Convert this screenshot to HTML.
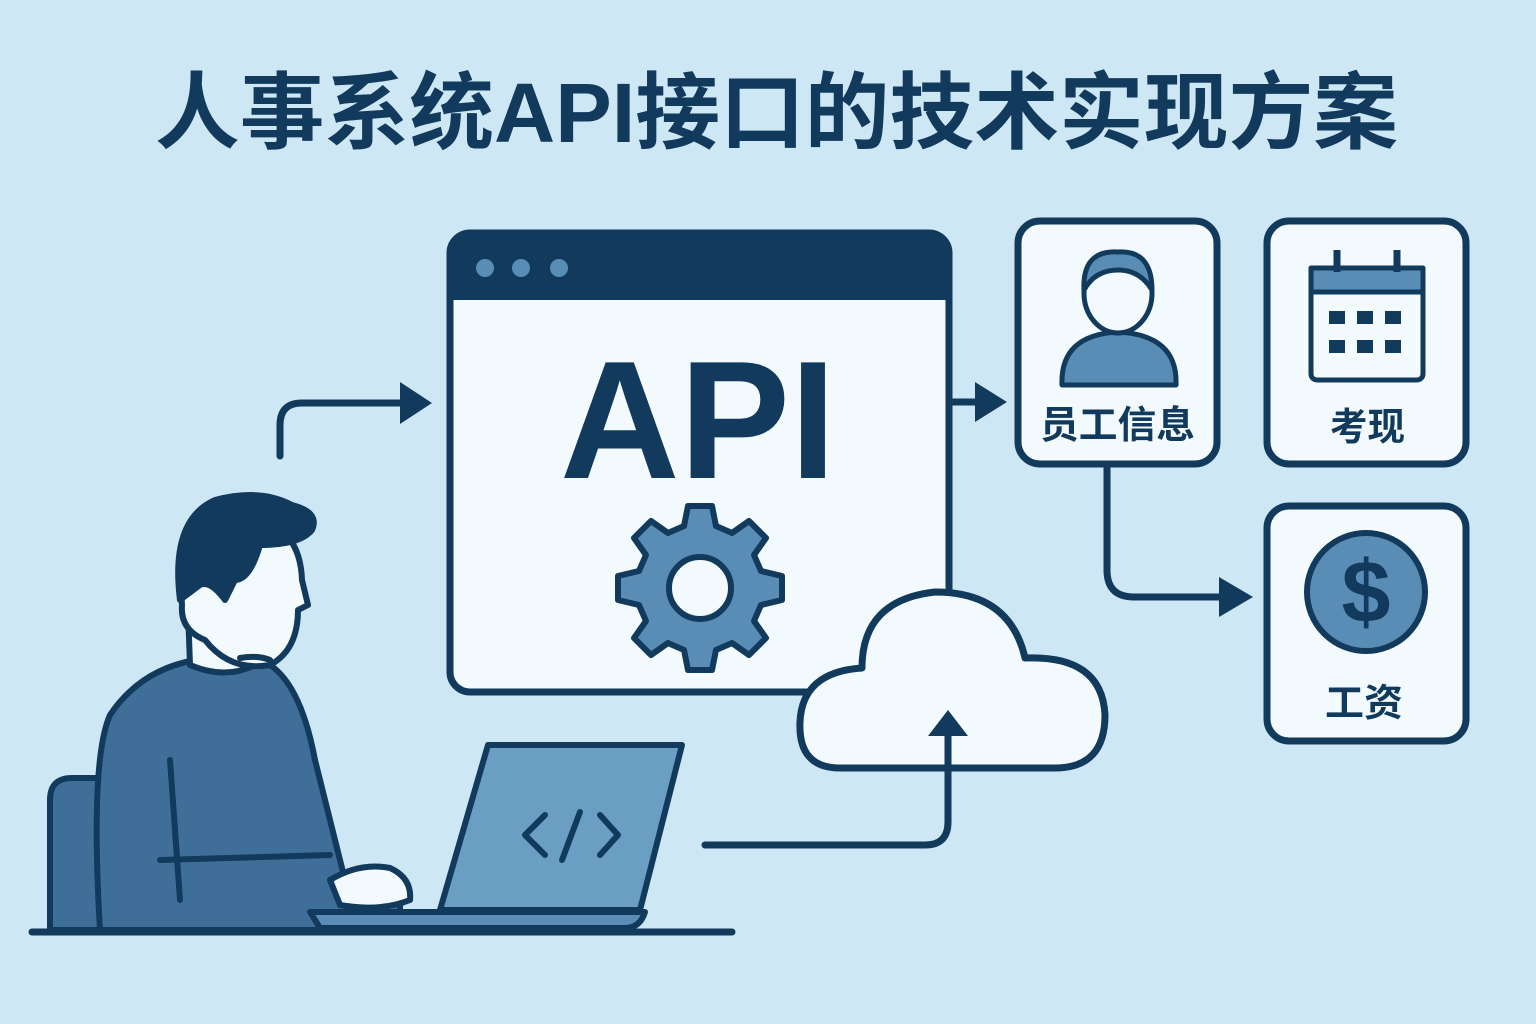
<!DOCTYPE html>
<html><head><meta charset="utf-8"><style>
html,body{margin:0;padding:0;background:#cde7f5;}
svg{display:block}
text{font-family:"Liberation Sans","Noto Sans CJK SC",sans-serif;font-weight:bold;fill:#123a5c}
</style></head><body>
<svg width="1536" height="1024" viewBox="0 0 1536 1024" xmlns="http://www.w3.org/2000/svg">
<rect width="1536" height="1024" fill="#cde7f5"/>
<text x="155" y="142" font-size="84" textLength="1243" lengthAdjust="spacingAndGlyphs">人事系统API接口的技术实现方案</text>

<g fill="none" stroke="#123a5c" stroke-width="7" stroke-linecap="round" stroke-linejoin="round">
<!-- left arrow -->
<path d="M280 456 V425 Q280 403 302 403 H405"/>
<!-- API to box arrow -->
<path d="M952 402 H978"/>
<!-- box1 to salary -->
<path d="M1107 465 V570 Q1107 597 1134 597 H1225"/>
<!-- laptop to cloud -->
<path d="M705 845 H925 Q948 845 948 822 V735"/>
</g>
<g fill="#123a5c">
<polygon points="400,382 432,403 400,424"/>
<polygon points="975,382 1007,402 975,422"/>
<polygon points="1219,577 1253,597 1219,617"/>
</g>

<!-- browser window -->
<rect x="450" y="233" width="499" height="459" rx="20" fill="#f3fafd" stroke="#123a5c" stroke-width="7"/>
<path d="M450 300 V253 Q450 233 470 233 H929 Q949 233 949 253 V300 Z" fill="#123a5c"/>
<circle cx="485" cy="268" r="9" fill="#5a8db5"/>
<circle cx="521" cy="268" r="9" fill="#5a8db5"/>
<circle cx="559" cy="268" r="9" fill="#5a8db5"/>
<text x="560" y="478" font-size="168" textLength="276" lengthAdjust="spacingAndGlyphs">API</text>
<!-- gear -->
<g transform="translate(700,588)" fill="#5a8db5" stroke="#123a5c" stroke-width="6" stroke-linejoin="round">
<path d="M-12 -82 H12 L16 -62 L32 -55 L49 -67 L66 -50 L54 -33 L61 -17 L82 -12 V12 L61 17 L54 33 L66 50 L49 67 L32 55 L16 62 L12 82 H-12 L-16 62 L-32 55 L-49 67 L-66 50 L-54 33 L-61 17 L-82 12 V-12 L-61 -17 L-54 -33 L-66 -50 L-49 -67 L-32 -55 L-16 -62 Z"/>
<circle r="31" fill="#f3fafd"/>
</g>

<!-- cloud -->
<path d="M840 768 Q798 768 800 722 Q802 672 862 668 Q862 600 935 592 Q1010 592 1025 658 Q1102 655 1105 715 Q1105 768 1055 768 Z" fill="#f3fafd" stroke="#123a5c" stroke-width="7" stroke-linejoin="round"/>
<path d="M948 768 V735" stroke="#123a5c" stroke-width="7" fill="none"/>
<polygon points="928,736 948,710 968,736" fill="#123a5c"/>

<!-- boxes -->
<g fill="#f3fafd" stroke="#123a5c" stroke-width="7">
<rect x="1018" y="221" width="199" height="243" rx="22"/>
<rect x="1267" y="221" width="199" height="243" rx="22"/>
<rect x="1267" y="506" width="199" height="235" rx="22"/>
</g>
<!-- person icon -->
<g stroke="#123a5c" stroke-width="5" fill="#5a8db5" stroke-linejoin="round">
<path d="M1062 385 Q1060 335 1118 332 Q1178 335 1176 385 Z"/>
<ellipse cx="1118" cy="293" rx="34" ry="40" fill="#f3fafd"/>
<path d="M1084 290 Q1082 250 1118 252 Q1152 250 1152 290 Q1140 270 1118 270 Q1095 270 1084 290 Z"/>
</g>
<text x="1040" y="438" font-size="38" textLength="155" lengthAdjust="spacingAndGlyphs">员工信息</text>
<!-- calendar -->
<g stroke="#123a5c" stroke-width="5" stroke-linejoin="round">
<rect x="1311" y="268" width="112" height="112" rx="6" fill="#f3fafd"/>
<rect x="1311" y="268" width="112" height="24" fill="#5a8db5"/>
<path d="M1337 250 V272 M1397 250 V272" stroke-width="7"/>
</g>
<g fill="#123a5c">
<rect x="1329" y="311" width="16" height="13"/><rect x="1357" y="311" width="16" height="13"/><rect x="1385" y="311" width="16" height="13"/>
<rect x="1329" y="340" width="16" height="13"/><rect x="1357" y="340" width="16" height="13"/><rect x="1385" y="340" width="16" height="13"/>
</g>
<text x="1330" y="440" font-size="38" textLength="75" lengthAdjust="spacingAndGlyphs">考现</text>
<!-- dollar -->
<circle cx="1366" cy="592" r="59" fill="#5a8db5" stroke="#123a5c" stroke-width="6"/>
<text x="1366" y="622" font-size="88" text-anchor="middle">$</text>
<text x="1325" y="716" font-size="38" textLength="78" lengthAdjust="spacingAndGlyphs">工资</text>

<!-- person at laptop -->
<g stroke="#123a5c" stroke-width="6" stroke-linejoin="round" stroke-linecap="round">
<!-- chair -->
<path d="M50 930 V800 Q50 778 72 778 H110 V930 Z" fill="#3f6f98"/>
<!-- body -->
<path d="M100 930 Q90 760 110 715 Q140 670 195 660 L265 662 Q300 680 315 760 L345 880 H400 V930 Z" fill="#3f6f98"/>
<path d="M170 760 L180 900 M160 860 L330 855" fill="none"/>
<!-- neck -->
<path d="M188 610 L190 665 Q225 680 255 665 L250 620 Z" fill="#f3fafd"/>
<!-- head -->
<path d="M195 560 Q200 515 250 518 Q300 525 302 580 L308 605 L298 610 Q298 650 270 665 Q230 672 205 640 Q180 630 182 605 Q180 580 195 585 Z" fill="#f3fafd"/>
<path d="M180 600 Q170 520 215 500 Q260 488 292 505 Q320 512 312 530 Q300 545 260 545 Q250 580 235 580 L225 600 Q210 580 200 585 Z" fill="#123a5c"/>
<path d="M240 658 Q258 655 270 660" fill="none"/>
<!-- hand -->
<path d="M330 880 Q360 862 390 868 Q412 878 410 900 Q380 912 340 905 Z" fill="#f3fafd"/>
<!-- laptop -->
<path d="M440 910 L488 745 H682 L640 910 Z" fill="#6a9ec2"/>
<path d="M310 912 H645 Q640 928 625 928 H320 Z" fill="#5a8db5"/>
<path d="M545 815 L525 835 L545 855 M600 815 L618 835 L600 855 M580 812 L562 860" fill="none" stroke-width="6"/>
<!-- desk -->
<path d="M32 932 H732" stroke-width="7"/>
</g>
</svg>
</body></html>
